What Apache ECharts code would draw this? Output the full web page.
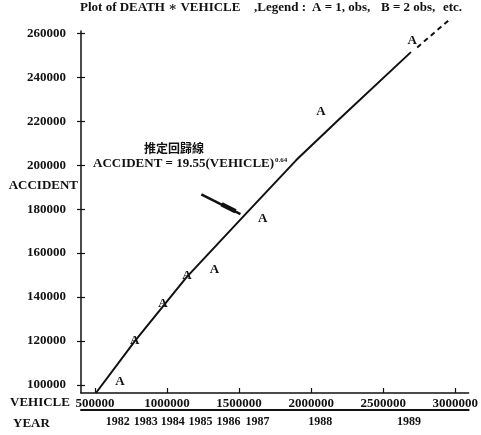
<!DOCTYPE html>
<html>
<head>
<meta charset="utf-8">
<script src="https://cdn.jsdelivr.net/npm/echarts@6.0.0/dist/echarts.min.js"></script>
<style>
  html, body { margin: 0; padding: 0; background: #fff; }
  #chart { width: 481px; height: 435px; }
</style>
</head>
<body>
<div id="chart"></div>
<script>
// Observed yearly counts: registered vehicles vs. accidents
const years = ['1982', '1983', '1984', '1985', '1986', '1987', '1988', '1989'];
const vehicles = [673000, 776600, 972300, 1138300, 1329900, 1663900, 2067800, 2701200];
const accidents = [101500, 120100, 137100, 149700, 152600, 175800, 224200, 256500];

// Where each year label sits along the vehicle scale
const yearVehicle = [659000, 852700, 1039400, 1233000, 1426700, 1627300, 2063000, 2678400];

// Fitted regression curve (solid) and its extension (dashed)
const fitVehicle = [506900, 776600, 1136200, 1551200, 1896900, 2194300, 2692300];
const fitAccident = [96400, 120000, 149100, 178200, 202300, 220900, 251400];
const extVehicle = [2735800, 2968900];
const extAccident = [253500, 266700];

// Pointer from the equation label to the curve, with its thicker middle part
const pointerVehicle = [1237900, 1509700];
const pointerAccident = [186700, 177700];
const pointerBodyVehicle = [1378300, 1475100];
const pointerBodyAccident = [182200, 179000];

// Tick values
const yTicks = [100000, 120000, 140000, 160000, 180000, 200000, 220000, 240000, 260000];
const xTicks = [500000, 1000000, 1500000, 2000000, 2500000, 3000000];

const SERIF = '"Liberation Serif", "DejaVu Serif", serif';
const INK = '#111';

const zip = (a, b) => a.map((v, i) => [v, b[i]]);
const plain = (v) => String(v);

const chart = echarts.init(document.getElementById('chart'), null, { renderer: 'canvas' });

const xRange = { min: 403200, max: 3093000 };
const yRange = { min: 96400, max: 261000 };

const plainLine = (name, data, width, extra) => Object.assign({
  name, type: 'line', data,
  showSymbol: false, symbol: 'none', clip: false,
  lineStyle: { color: INK, width }, z: 2,
  emphasis: { disabled: true }
}, extra || {});

chart.setOption({
  animation: false,
  backgroundColor: '#fff',
  grid: { left: 81, right: 11, top: 31, bottom: 42 },
  xAxis: [
    {
      type: 'value', ...xRange, position: 'bottom',
      axisLine: { lineStyle: { color: INK, width: 1.5 } },
      axisTick: { show: true, inside: true, length: 5, customValues: xTicks, lineStyle: { color: INK, width: 1.2 } },
      axisLabel: {
        customValues: xTicks, margin: 4, color: INK, formatter: plain,
        fontFamily: SERIF, fontSize: 13, fontWeight: 'bold'
      },
      splitLine: { show: false }
    },
    {
      type: 'value', ...xRange, position: 'bottom', offset: 17,
      axisLine: { lineStyle: { color: INK, width: 2 } },
      axisTick: { show: false },
      axisLabel: {
        customValues: yearVehicle, margin: 6, color: INK,
        fontFamily: SERIF, fontSize: 12, fontWeight: 'bold',
        formatter: (v) => {
          const i = yearVehicle.indexOf(v);
          const y = years[i];
          return i >= 6 ? '{up|' + y + '}' : y;
        },
        rich: { up: { fontFamily: SERIF, fontSize: 12, fontWeight: 'bold', color: INK, padding: [0, 0, 6, 0] } }
      },
      splitLine: { show: false }
    }
  ],
  yAxis: [
    {
      type: 'value', ...yRange, position: 'left',
      axisLine: { show: true, lineStyle: { color: INK, width: 1.5 } },
      axisTick: { show: true, length: 4, customValues: yTicks, lineStyle: { color: INK, width: 1.2 } },
      axisLabel: {
        customValues: yTicks, margin: 15, color: INK, formatter: plain,
        fontFamily: SERIF, fontSize: 13, fontWeight: 'bold'
      },
      splitLine: { show: false }
    },
    {
      type: 'value', ...yRange, position: 'left',
      axisLine: { show: false },
      axisTick: { show: true, inside: true, length: 4, customValues: yTicks, lineStyle: { color: INK, width: 1.2 } },
      axisLabel: { show: false },
      splitLine: { show: false }
    }
  ],
  series: [
    plainLine('fit', zip(fitVehicle, fitAccident), 2),
    plainLine('fit extension', zip(extVehicle, extAccident), 2, { lineStyle: { color: INK, width: 2, type: [5, 4] } }),
    plainLine('pointer', zip(pointerVehicle, pointerAccident), 2.5),
    plainLine('pointer body', zip(pointerBodyVehicle, pointerBodyAccident), 4.5),
    {
      // each observation is plotted as the letter "A"
      name: 'obs', type: 'custom',
      data: zip(vehicles, accidents),
      encode: { x: 0, y: 1 },
      renderItem: (params, api) => {
        const p = api.coord([api.value(0), api.value(1)]);
        return {
          type: 'text', x: p[0], y: p[1],
          style: {
            text: 'A', fill: INK,
            font: 'bold 13px ' + SERIF,
            align: 'center', verticalAlign: 'middle'
          }
        };
      },
      z: 3
    }
  ],
  graphic: [
    { type: 'text', left: 80, top: 1, style: { text: 'Plot of DEATH ∗ VEHICLE', font: 'bold 13px ' + SERIF, fill: INK } },
    { type: 'text', left: 254, top: 1, style: { text: ',Legend :', font: 'bold 13px ' + SERIF, fill: INK } },
    { type: 'text', left: 312, top: 1, style: { text: 'A = 1, obs,', font: 'bold 13px ' + SERIF, fill: INK } },
    { type: 'text', left: 381, top: 1, style: { text: 'B = 2 obs,', font: 'bold 13px ' + SERIF, fill: INK } },
    { type: 'text', left: 443, top: 1, style: { text: 'etc.', font: 'bold 13px ' + SERIF, fill: INK } },
    { type: 'text', x: 78, y: 186, style: { text: 'ACCIDENT', font: 'bold 13px ' + SERIF, fill: INK, align: 'right', verticalAlign: 'middle' } },
    { type: 'text', x: 10, y: 403, style: { text: 'VEHICLE', font: 'bold 13px ' + SERIF, fill: INK, align: 'left', verticalAlign: 'middle' } },
    { type: 'text', x: 13, y: 424, style: { text: 'YEAR', font: 'bold 13px ' + SERIF, fill: INK, align: 'left', verticalAlign: 'middle' } },
    { type: 'text', x: 174, y: 148, style: { text: '推定回歸線', font: 'bold 12px "Noto Sans CJK TC", "Noto Sans CJK SC", sans-serif', fill: INK, align: 'center', verticalAlign: 'middle' } },
    {
      type: 'text', x: 93, y: 164,
      style: {
        text: '{m|ACCIDENT = 19.55(VEHICLE)}{s|0.64}',
        verticalAlign: 'middle', align: 'left',
        rich: {
          m: { font: 'bold 13px ' + SERIF, fill: INK, color: INK },
          s: { font: 'bold 7px ' + SERIF, fill: INK, color: INK, verticalAlign: 'top', padding: [0, 0, 8, 1] }
        }
      }
    }
  ]
});
</script>
</body>
</html>
